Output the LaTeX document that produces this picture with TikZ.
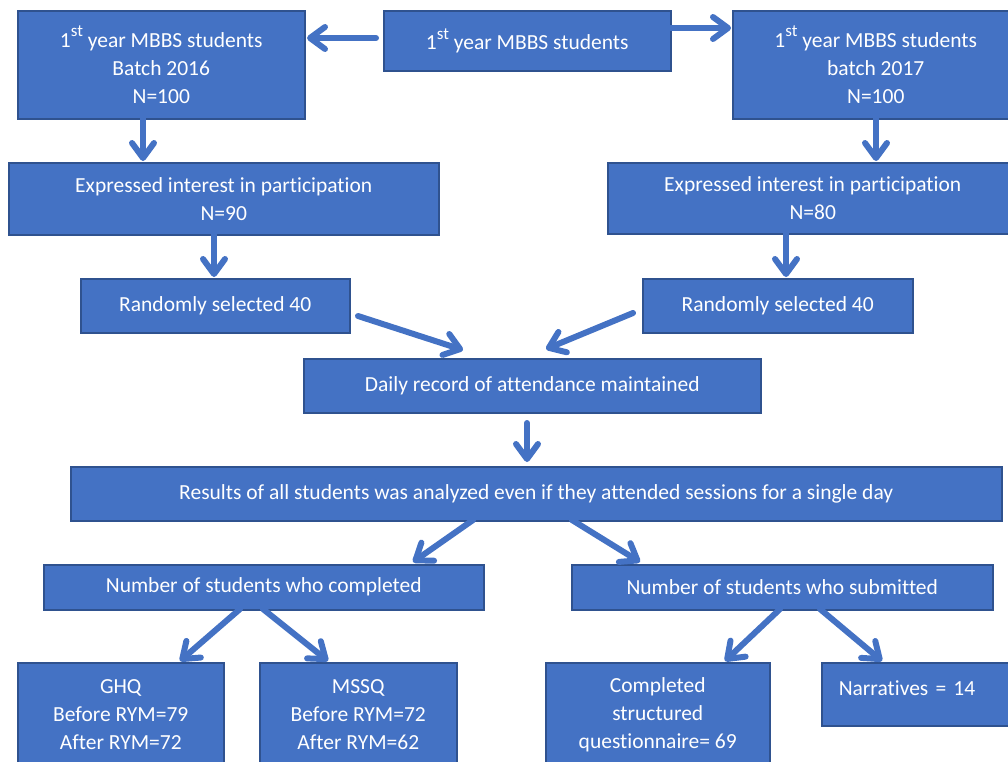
\documentclass[tikz,border=0pt]{standalone}
\usepackage{fontspec}
\setmainfont{Carlito}[Ligatures=NoCommon]
\usetikzlibrary{arrows.meta}
\definecolor{boxfill}{HTML}{4472C4}
\definecolor{boxline}{HTML}{2F528F}
\newcommand{\myst}{\raisebox{0.5em}{\fontsize{17}{17}\selectfont st}}
\tikzset{
  box/.style={draw=boxline, line width=1.5pt, fill=boxfill, text=white, align=center,
    inner sep=0pt, anchor=north west, font=\fontsize{21.5}{28}\selectfont},
  flow/.style={draw=boxfill, line width=6pt, line cap=round,
    -{Straight Barb[length=15pt,width=22pt,round]}}
}
\begin{document}
\begin{tikzpicture}[x=1pt,y=-1pt]
\useasboundingbox (0,0) rectangle (1008,761);
\clip (0,0) rectangle (1008,761);
% boxes
\node[box, minimum width=287, minimum height=60] (top) at (383,10) {1\myst{} year MBBS students};
\node[box, minimum width=287, minimum height=108] (b16) at (17,10) {1\myst{} year MBBS students\\Batch 2016\\N=100};
\node[box, minimum width=286, minimum height=108] (b17) at (732,10) {1\myst{} year MBBS students\\batch 2017\\N=100};
\node[box, minimum width=430, minimum height=72] (exl) at (8,162) {Expressed interest in participation\\N=90};
\node[box, minimum width=410, minimum height=71] (exr) at (607,162) {Expressed interest in participation\\N=80};
\node[box, minimum width=269, minimum height=54] (rl) at (80,278) {Randomly selected 40};
\node[box, minimum width=270, minimum height=54] (rr) at (642,278) {Randomly selected 40};
\node[box, minimum width=457, minimum height=54] (daily) at (303,358) {Daily record of attendance maintained};
\node[box, minimum width=931, minimum height=54] (res) at (70,466) {Results of all students was analyzed even if they attended sessions for a single day};
\node[box, minimum width=440, minimum height=45] (comp) at (43,564) {Number of students who completed};
\node[box, minimum width=421, minimum height=45] (subm) at (571,564) {Number of students who submitted};
\node[box, minimum width=206, minimum height=104] (ghq) at (17,662) {GHQ\\Before RYM=79\\After RYM=72};
\node[box, minimum width=197, minimum height=104] (mssq) at (259,662) {MSSQ\\Before RYM=72\\After RYM=62};
\node[box, minimum width=224, minimum height=104] (csq) at (545,662) {Completed\\structured\\questionnaire= 69};
\node[box, minimum width=191, minimum height=63, text width=157, inner xsep=17, align=left] (narr) at (821,662) {\raisebox{6pt}[\height][\depth]{Narratives = 14}};
% connector end points
\coordinate (t1) at (376,38);  \coordinate (t1e) at (307,38);
\coordinate (t2) at (670,28);  \coordinate (t2e) at (731,28);
\coordinate (a1) at (143,118); \coordinate (a1e) at (143,161);
\coordinate (a2) at (876,118); \coordinate (a2e) at (876,161);
\coordinate (e1) at (214,234); \coordinate (e1e) at (214,277);
\coordinate (e2) at (786,233); \coordinate (e2e) at (786,277);
\coordinate (r1) at (358,316); \coordinate (r1e) at (463,350);
\coordinate (r2) at (633,313); \coordinate (r2e) at (546,349);
\coordinate (d1) at (527,423); \coordinate (d1e) at (527,462);
\coordinate (s1) at (473,520); \coordinate (s1e) at (413,562);
\coordinate (s2) at (572,520); \coordinate (s2e) at (640,562);
\coordinate (c1) at (240,609); \coordinate (c1e) at (180,661);
\coordinate (c2) at (263,609); \coordinate (c2e) at (328,661);
\coordinate (u1) at (780,609); \coordinate (u1e) at (725,661);
\coordinate (u2) at (820,609); \coordinate (u2e) at (882,661);
% connectors
\draw[flow] (t1) -- (t1e);
\draw[flow] (t2) -- (t2e);
\draw[flow] (a1) -- (a1e);
\draw[flow] (a2) -- (a2e);
\draw[flow] (e1) -- (e1e);
\draw[flow] (e2) -- (e2e);
\draw[flow] (r1) -- (r1e);
\draw[flow] (r2) -- (r2e);
\draw[flow] (d1) -- (d1e);
\draw[flow] (s1) -- (s1e);
\draw[flow] (s2) -- (s2e);
\draw[flow] (c1) -- (c1e);
\draw[flow] (c2) -- (c2e);
\draw[flow] (u1) -- (u1e);
\draw[flow] (u2) -- (u2e);
\end{tikzpicture}
\end{document}
